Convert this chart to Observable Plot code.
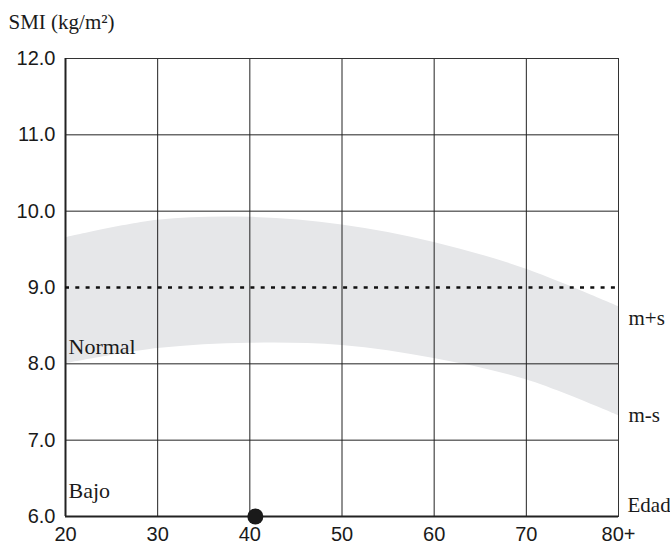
<!DOCTYPE html>
<html>
<head>
<meta charset="utf-8">
<script src="https://cdn.jsdelivr.net/npm/d3@7"></script>
<script src="https://cdn.jsdelivr.net/npm/@observablehq/plot@0.6"></script>
<style>
  body { margin: 0; background: #fff; }
  #chart svg { display: block; }
</style>
</head>
<body>
<div id="chart"></div>
<script>
const ages = [20, 30, 40, 50, 60, 70, 80];
const upper = [9.65, 9.88, 9.92, 9.82, 9.59, 9.24, 8.75];
const lower = [8.0, 8.2, 8.27, 8.24, 8.07, 7.79, 7.32];
const xTicks = [20, 30, 40, 50, 60, 70, 80];
const xTickLabels = ["20", "30", "40", "50", "60", "70", "80+"];
const yTicks = [6, 7, 8, 9, 10, 11, 12];
const gridYValues = [6, 7, 8, 10, 11, 12];
const meanLine = 9.0;
const patientAge = [40.6];
const patientSMI = [6.0];
const bandLabels = ["m+s", "m-s"];
const bandLabelY = [8.6, 7.32];
const zoneLabels = ["Normal", "Bajo"];
const zoneLabelY = [8.22, 6.34];

const band = ages.map((a, i) => ({age: a, hi: upper[i], lo: lower[i]}));
const serif = "'Liberation Serif', 'DejaVu Serif', serif";
const xfmt = (d) => xTickLabels[xTicks.indexOf(d)];

const chart = Plot.plot({
  width: 670,
  height: 546,
  marginLeft: 65,
  marginRight: 52,
  marginTop: 58,
  marginBottom: 30,
  style: {fontFamily: "'Liberation Sans', Arial, sans-serif", fontSize: "20px", color: "#1a1a1a", background: "#fff"},
  x: {domain: [20, 80], label: null},
  y: {domain: [6, 12], label: null},
  marks: [
    Plot.areaY(band, {x: "age", y1: "lo", y2: "hi", fill: "#e6e7e9", curve: "catmull-rom"}),
    Plot.gridX(xTicks, {stroke: "#222", strokeOpacity: 1, strokeWidth: 1}),
    Plot.gridY(gridYValues, {stroke: "#222", strokeOpacity: 1, strokeWidth: 1}),
    Plot.frame({stroke: "#333", strokeWidth: 1}),
    Plot.ruleX([20], {stroke: "#222", strokeWidth: 2}),
    Plot.ruleY([6], {stroke: "#222", strokeWidth: 2}),
    Plot.ruleY([meanLine], {stroke: "#111", strokeWidth: 2.5, strokeDasharray: "4,6.3"}),
    Plot.axisX(xTicks, {tickSize: 0, tickPadding: 10, tickFormat: xfmt, fontSize: 20, fill: "#1a1a1a", label: null}),
    Plot.axisY(yTicks, {tickSize: 0, tickPadding: 10, tickFormat: d3.format(".1f"), fontSize: 20, fill: "#1a1a1a", label: null}),
    Plot.dot(patientAge.map((a, i) => ({a, s: patientSMI[i]})), {x: "a", y: "s", r: 8, fill: "#1a1a1a", stroke: "none", clip: false}),
    Plot.text(bandLabels.map((t, i) => ({t, y: bandLabelY[i]})), {x: 80, y: "y", text: "t", dx: 10, textAnchor: "start", fontFamily: serif, fontSize: 21, fill: "#1a1a1a"}),
    Plot.text(zoneLabels.map((t, i) => ({t, y: zoneLabelY[i]})), {x: 20, y: "y", text: "t", dx: 3, textAnchor: "start", fontFamily: serif, fontSize: 22, fill: "#1a1a1a"}),
    Plot.text(["Edad"], {x: 80, y: 6.15, text: (d) => d, dx: 9, textAnchor: "start", fontFamily: serif, fontSize: 21, fill: "#1a1a1a"}),
    Plot.text(["SMI (kg/m²)"], {frameAnchor: "top-left", text: (d) => d, dx: -57, dy: -44, textAnchor: "start", fontFamily: serif, fontSize: 21, fill: "#1a1a1a"})
  ]
});
document.getElementById("chart").appendChild(chart);
</script>
</body>
</html>
